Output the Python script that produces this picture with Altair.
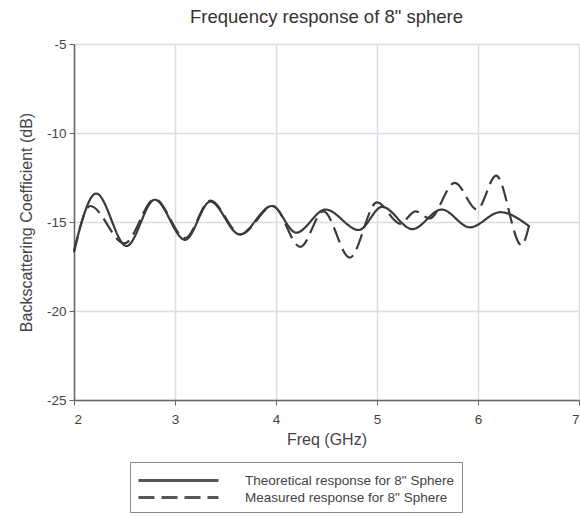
import altair as alt
import pandas as pd

# Theoretical response (solid)
theo_f = [2.0, 2.22, 2.52, 2.80, 3.10, 3.35, 3.64, 3.96, 4.20, 4.49, 4.82, 5.05, 5.35, 5.64, 5.92, 6.22, 6.51]
theo_v = [-16.6, -13.4, -16.35, -13.75, -16.0, -13.85, -15.7, -14.1, -15.6, -14.3, -15.45, -14.15, -15.4, -14.3, -15.3, -14.45, -15.25]

meas_f = [2.0, 2.16, 2.50, 2.80, 3.10, 3.35, 3.65, 3.97, 4.24, 4.47, 4.73, 5.00, 5.23, 5.38, 5.52, 5.77, 5.99, 6.18, 6.43, 6.51]
meas_v = [-16.7, -14.1, -16.2, -13.7, -15.9, -13.8, -15.7, -14.1, -16.4, -14.4, -17.0, -13.9, -15.1, -14.4, -14.8, -12.8, -14.3, -12.4, -16.3, -15.1]

series_names = ['Theoretical response for 8" Sphere', 'Measured response for 8" Sphere']
x_ticks = [2, 3, 4, 5, 6, 7]
y_ticks = [-25, -20, -15, -10, -5]

df = pd.concat([
    pd.DataFrame({"f": theo_f, "v": theo_v, "series": series_names[0], "order": range(len(theo_f))}),
    pd.DataFrame({"f": meas_f, "v": meas_v, "series": series_names[1], "order": range(len(meas_f))}),
])

FONT = "Liberation Sans"

chart = alt.Chart(df).mark_line(
    interpolate="monotone", strokeWidth=2.2, color="#3a3a3a"
).encode(
    x=alt.X("f:Q", scale=alt.Scale(domain=[2, 7], nice=False),
            axis=alt.Axis(values=x_ticks, title="Freq (GHz)", labelExpr="datum.value + ''")),
    y=alt.Y("v:Q", scale=alt.Scale(domain=[-25, -5], nice=False),
            axis=alt.Axis(values=y_ticks, title="Backscattering Coefficient (dB)",
                          labelExpr="datum.value + ''")),
    strokeDash=alt.StrokeDash(
        "series:N",
        scale=alt.Scale(domain=series_names, range=[[1, 0], [16, 7]]),
        legend=alt.Legend(
            title=None, orient="none", legendX=56, legendY=418,
            symbolType="M-1.111,0L7.778,0", symbolSize=324, symbolStrokeWidth=3,
            symbolStrokeColor="#555555",
            labelFont=FONT, labelFontSize=13.5, labelColor="#444444",
            labelOffset=86, labelLimit=400, rowPadding=0,
            strokeColor="#8a8a8a", padding=8,
        ),
    ),
    detail="series:N",
    order="order:Q",
).properties(
    width=505, height=356,
    title=alt.TitleParams('Frequency response of 8" sphere', font=FONT, fontSize=18.5,
                          fontWeight="normal", color="#333333", offset=11),
    autosize=alt.AutoSizeParams(type="none"),
    padding={"left": 74, "top": 44, "right": 1, "bottom": 116},
).configure_view(
    stroke=None
).configure_axis(
    labelFont=FONT, labelFontSize=13.5, labelColor="#444444",
    titleFont=FONT, titleFontSize=16, titleColor="#444444", titleFontWeight="normal",
    gridColor="#dcdce4", gridWidth=1.5,
    domainColor="#666666", domainWidth=1.5,
    tickColor="#666666", tickSize=5,
).configure_axisX(
    labelPadding=7, titlePadding=6,
).configure_axisY(
    labelPadding=3, titlePadding=12,
)

chart.save("out.html", embed_options={"renderer": "svg", "actions": False})
